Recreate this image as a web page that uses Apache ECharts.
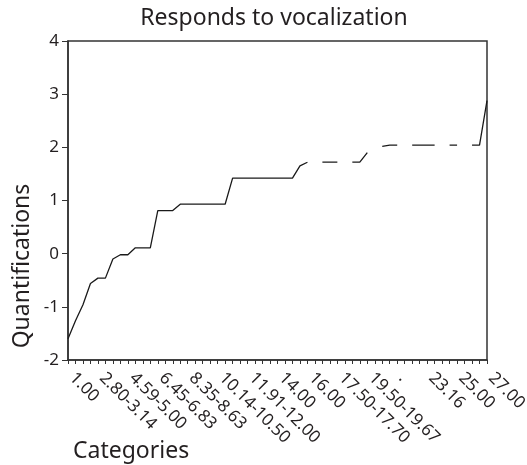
<!DOCTYPE html>
<html>
<head>
<meta charset="utf-8">
<script src="https://cdn.jsdelivr.net/npm/echarts@6/dist/echarts.min.js"></script>
<style>
  html, body { margin: 0; padding: 0; background: #fff; }
  #chart { width: 527px; height: 465px; }
</style>
</head>
<body>
<div id="chart"></div>
<script>
// ---- data ----
const titleText = 'Responds to vocalization';
const xName = 'Categories';
const yName = 'Quantifications';

const categories = [
  '1.00','1.45','1.90','2.35',
  '2.80-3.14','3.50','3.86','4.20',
  '4.59-5.00','5.30','5.67','6.00',
  '6.45-6.83','7.10','7.50','7.95',
  '8.35-8.63','9.00','9.33','9.70',
  '10.14-10.50','10.80','11.20','11.50',
  '11.91-12.00','12.50','13.00','13.50',
  '14.00','14.50','15.00','15.50',
  '16.00','16.33','16.67','17.00',
  '17.50-17.70','18.00','18.50','19.00',
  '19.50-19.67','20.00','20.50','21.00',
  '.','21.50','22.00','22.50',
  '23.16','23.50','24.00','24.50',
  '25.00','25.50','26.00','26.50',
  '27.00'
];

const quantifications = [
  -1.60, -1.26, -0.96, -0.56,
  -0.46, -0.46, -0.10, -0.02,
  -0.02, 0.11, 0.11, 0.11,
  0.81, 0.81, 0.81, 0.93,
  0.93, 0.93, 0.93, 0.93,
  0.93, 0.93, 1.42, 1.42,
  1.42, 1.42, 1.42, 1.42,
  1.42, 1.42, 1.42, 1.65,
  1.72, null, 1.72, 1.72,
  1.72, null, 1.72, 1.72,
  1.90, null, 2.02, 2.04,
  2.04, null, 2.04, 2.04,
  2.04, 2.04, null, 2.04,
  2.04, null, 2.04, 2.04,
  2.88
];

const yMin = -2, yMax = 4, yStep = 1;

// ---- chart ----
const ink = '#231f20';
const chart = echarts.init(document.getElementById('chart'), null, { renderer: 'canvas' });
const font = 'Noto Sans';

chart.setOption({
  animation: false,
  backgroundColor: '#fff',
  grid: {
    left: 68, right: 40, top: 41, bottom: 105,
    show: true, borderColor: '#333', borderWidth: 1.5,
    containLabel: false, outerBoundsMode: 'none'
  },
  xAxis: {
    type: 'category',
    data: categories,
    boundaryGap: false,
    axisLine: { show: true, onZero: false, lineStyle: { color: '#333', width: 1.5 } },
    axisTick: { show: true, interval: 0, length: 4, lineStyle: { color: '#333', width: 1 } },
    axisLabel: {
      interval: 3, rotate: -45, margin: 11, padding: [0, 0, 0, 6],
      fontFamily: font, fontSize: 17, color: ink
    },
    splitLine: { show: false }
  },
  yAxis: {
    type: 'value',
    min: yMin, max: yMax, interval: yStep,
    axisLine: { show: true, lineStyle: { color: '#333', width: 1.5 } },
    axisTick: { show: true, length: 6, lineStyle: { color: '#333', width: 1 } },
    axisLabel: { margin: 9, fontFamily: font, fontSize: 17, color: ink },
    splitLine: { show: false }
  },
  series: [{
    type: 'line',
    data: quantifications,
    showSymbol: false,
    connectNulls: false,
    lineStyle: { color: '#1a1a1a', width: 1.3 },
    z: 3
  }],
  graphic: [
    {
      type: 'text', x: 274, y: 18,
      style: { text: titleText, font: '23px "Noto Sans"', fill: ink, textAlign: 'center', textVerticalAlign: 'middle' }
    },
    {
      type: 'text', x: 73, y: 451,
      style: { text: xName, font: '23px "Noto Sans"', fill: ink, textAlign: 'left', textVerticalAlign: 'middle' }
    },
    {
      type: 'text', x: 22, y: 266, rotation: Math.PI / 2,
      style: { text: yName, font: '23px "Noto Sans"', fill: ink, textAlign: 'center', textVerticalAlign: 'middle' }
    }
  ]
});
</script>
</body>
</html>
